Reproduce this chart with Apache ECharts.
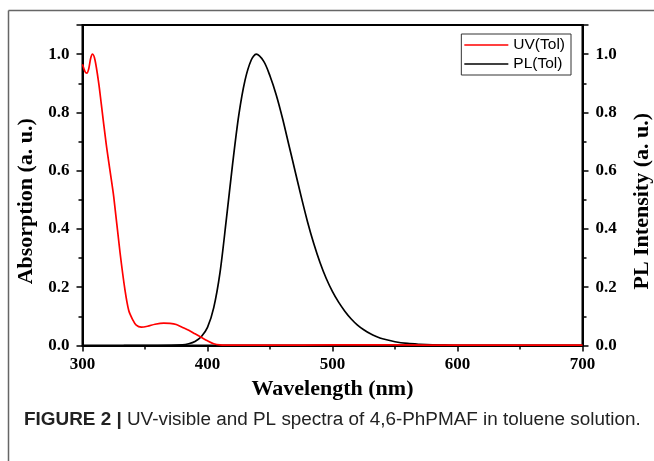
<!DOCTYPE html>
<html lang="en">
<head>
    <meta charset="UTF-8">
    <title>UV-vis / PL</title>
    <script src="https://cdn.jsdelivr.net/npm/echarts@6/dist/echarts.min.js"></script>
    <style>
        * { margin: 0; padding: 0; box-sizing: border-box; }
        html, body { width: 654px; height: 461px; background: #fff; overflow: hidden; }
    </style>
</head>
<body>
<div id="main" style="width: 654px;height:461px;"></div>
<script type="text/javascript">
    // 吸收光谱 (UV, 红线)
    var uvWave = [300, 302, 303.5, 305, 306.5, 308, 310, 313, 315, 319, 322, 325, 330, 334, 337, 340, 343, 347, 352, 358, 365, 370, 375, 380, 385, 390, 395, 400, 405, 410, 420, 450, 500, 550, 600, 650, 700];
    var uvValue = [0.965, 0.94, 0.935, 0.95, 0.985, 1.0, 0.98, 0.9, 0.83, 0.69, 0.6, 0.51, 0.32, 0.19, 0.12, 0.09, 0.07, 0.063, 0.066, 0.073, 0.077, 0.076, 0.072, 0.062, 0.052, 0.04, 0.028, 0.016, 0.006, 0.002, 0.001, 0.001, 0.002, 0.002, 0.001, 0.001, 0.001];
    // 荧光光谱 (PL, 黑线)
    var plWave = [333, 360, 380, 385, 390, 395, 400, 405, 410, 415, 420, 425, 430, 435, 439, 445, 450, 455, 460, 465, 470, 475, 480, 485, 490, 495, 500, 505, 510, 515, 520, 525, 530, 535, 540, 550, 560, 570, 580, 590, 600, 650, 700];
    var plValue = [0, 0, 0.002, 0.006, 0.014, 0.03, 0.062, 0.13, 0.25, 0.43, 0.62, 0.79, 0.91, 0.98, 1.0, 0.975, 0.925, 0.86, 0.78, 0.69, 0.6, 0.51, 0.425, 0.35, 0.285, 0.23, 0.185, 0.148, 0.117, 0.091, 0.07, 0.054, 0.041, 0.031, 0.023, 0.013, 0.007, 0.004, 0.002, 0.001, 0, 0, 0];

    var serif = "'Liberation Serif', 'DejaVu Serif', serif";
    var sans = "'Liberation Sans', Arial, sans-serif";

    function pairs(xs, ys) {
        var out = [];
        for (var i = 0; i < xs.length; i++) out.push([xs[i], ys[i]]);
        return out;
    }

    var myChart = echarts.init(document.getElementById('main'));

    var yAxisBase = {
        type: 'value',
        min: 0,
        max: 1.1,
        interval: 0.2,
        nameLocation: 'middle',
        nameRotate: 90,
        axisLine: { show: true, lineStyle: { color: '#000', width: 2 } },
        axisTick: { show: true, inside: false, length: 6, lineStyle: { color: '#000', width: 1.5 } },
        minorTick: { show: true, splitNumber: 2, length: 4, lineStyle: { color: '#000', width: 1.5 } },
        splitLine: { show: false },
        axisLabel: {
            showMaxLabel: false,
            margin: 13,
            fontFamily: serif, fontWeight: 'bold', fontSize: 17, color: '#000',
            formatter: function (v) { return v.toFixed(1); }
        }
    };
    // 轴标题往下挪一点
    var yNameStyle = { fontFamily: serif, fontWeight: 'bold', fontSize: 22, color: '#000', padding: [0, 32, 0, 0] };

    var option = {
        animation: false,
        grid: {
            left: 82.5, right: 71.5, top: 25, bottom: 115.5,
            outerBoundsMode: 'none',
            show: true, borderColor: '#000', borderWidth: 2
        },
        legend: {
            orient: 'vertical',
            right: 83,
            top: 34,
            data: ['UV(Tol)', 'PL(Tol)'],
            icon: 'rect',
            itemWidth: 44,
            itemHeight: 1.5,
            itemGap: 3,
            padding: [3, 6, 3, 3],
            borderColor: '#333',
            borderWidth: 1,
            textStyle: { fontFamily: sans, fontSize: 15.5, color: '#000' }
        },
        xAxis: {
            type: 'value',
            min: 300,
            max: 700,
            interval: 100,
            name: 'Wavelength (nm)',
            nameLocation: 'middle',
            nameGap: 30,
            nameTextStyle: { fontFamily: serif, fontWeight: 'bold', fontSize: 22, color: '#000' },
            axisLine: { show: true, onZero: false, lineStyle: { color: '#000', width: 2 } },
            axisTick: { show: true, inside: false, length: 6, lineStyle: { color: '#000', width: 1.5 } },
            minorTick: { show: true, splitNumber: 2, length: 4, lineStyle: { color: '#000', width: 1.5 } },
            splitLine: { show: false },
            axisLabel: { margin: 11, fontFamily: serif, fontWeight: 'bold', fontSize: 17, color: '#000' }
        },
        yAxis: [
            Object.assign({}, yAxisBase, { name: 'Absorption (a. u.)', position: 'left', nameGap: 43, nameTextStyle: yNameStyle }),
            Object.assign({}, yAxisBase, { name: 'PL Intensity (a. u.)', position: 'right', nameGap: 49, nameTextStyle: yNameStyle })
        ],
        series: [
            {
                name: 'UV(Tol)',
                type: 'line',
                yAxisIndex: 0,
                z: 3,
                smooth: 0.3,
                showSymbol: false,
                itemStyle: { color: '#ff0000' },
                lineStyle: { color: '#ff0000', width: 1.7 },
                data: pairs(uvWave, uvValue)
            },
            {
                name: 'PL(Tol)',
                type: 'line',
                yAxisIndex: 1,
                z: 2,
                smooth: 0.3,
                showSymbol: false,
                itemStyle: { color: '#000' },
                lineStyle: { color: '#000', width: 1.7 },
                data: pairs(plWave, plValue)
            }
        ],
        graphic: [
            // 外框 (左、上)
            { type: 'line', shape: { x1: 8.5, y1: 10.5, x2: 654, y2: 10.5 }, style: { stroke: '#666', lineWidth: 1.5 } },
            { type: 'line', shape: { x1: 8.5, y1: 10.5, x2: 8.5, y2: 461 }, style: { stroke: '#666', lineWidth: 1.5 } },
            {
                type: 'text',
                x: 24,
                y: 411,
                scaleX: 1.05,
                style: {
                    text: '{b|FIGURE 2 |} UV-visible and PL spectra of 4,6-PhPMAF in toluene solution.',
                    fontFamily: sans,
                    fontSize: 18,
                    fill: '#222',
                    rich: {
                        b: { fontFamily: sans, fontSize: 18, fontWeight: 'bold', fill: '#222' }
                    }
                }
            }
        ]
    };

    myChart.setOption(option);
</script>
</body>
</html>
